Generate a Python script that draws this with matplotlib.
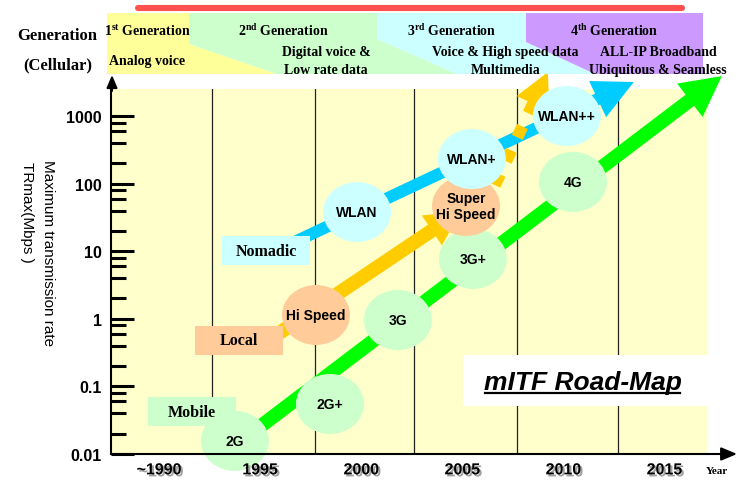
import matplotlib
matplotlib.use('Agg')
import matplotlib.pyplot as plt
import matplotlib.patches as mpatches
import matplotlib.transforms as mtransforms
import matplotlib.patheffects as pe
from matplotlib.lines import Line2D
from matplotlib.ticker import NullFormatter, NullLocator
import numpy as np

# ---------------- data ----------------
year_ticks = [1990, 1995, 2000, 2005, 2010, 2015]
year_labels = ['~1990', '1995', '2000', '2005', '2010', '2015']
rate_ticks = [0.01, 0.1, 1, 10, 100, 1000]
rate_labels = ['0.01', '0.1', '1', '10', '100', '1000']
era_lines = [1992.6, 1997.7, 2002.6, 2007.7, 2012.7]

mobile_names = ['2G', '2G+', '3G', '3G+', '4G']
mobile_years = [1993.75, 1998.45, 2001.81, 2005.52, 2010.47]
mobile_rates = [0.0156, 0.055, 0.96, 7.7, 106]

local_names = ['Hi Speed', 'Super\nHi Speed']
local_years = [1997.76, 2005.18]
local_rates = [1.14, 46.7]

nomadic_names = ['WLAN', 'WLAN+', 'WLAN++']
nomadic_years = [1999.79, 2005.47, 2010.17]
nomadic_rates = [38, 231, 1000]

# trend arrows: [start, end]
mobile_arrow_years = [1992.76, 2017.83]
mobile_arrow_rates = [0.0079, 3900]
nomadic_arrow_years = [1996.49, 2013.48]
nomadic_arrow_rates = [12.8, 3185]
local_arrow_years = [1995.49, 2004.93]
local_arrow_rates = [0.50, 39.4]
local_future_years = [2006.61, 2009.23]
local_future_rates = [95, 4480]

cat_names = ['Nomadic', 'Local', 'Mobile']
cat_years = [1995.29, 1993.93, 1991.63]
cat_rates = [10.2, 0.478, 0.0425]

# ---------------- style ----------------
W, H, DPI = 743, 485, 100
SANS = ['Liberation Sans', 'DejaVu Sans']
SERIF = ['Liberation Serif', 'DejaVu Serif']
plt.rcParams['font.family'] = SANS
plt.rcParams['mathtext.fontset'] = 'custom'
plt.rcParams['mathtext.rm'] = 'Liberation Serif:bold'
plt.rcParams['mathtext.it'] = 'Liberation Serif:bold'
plt.rcParams['mathtext.bf'] = 'Liberation Serif:bold'

C_GREEN_ARROW = '#00FF00'
C_CYAN_ARROW = '#00CCFF'
C_YELLOW_ARROW = '#FFCC00'
C_GREEN_BUB = '#CCFFCC'
C_CYAN_BUB = '#CCFFFF'
C_ORANGE_BUB = '#FFCC99'
cat_colors = [C_CYAN_BUB, C_ORANGE_BUB, C_GREEN_BUB]

fig = plt.figure(figsize=(W / DPI, H / DPI), dpi=DPI)
# pixel coordinates, origin top-left (layout helper)
pix = mtransforms.Affine2D().scale(1 / W, -1 / H).translate(0, 1) + fig.transFigure

AX_L, AX_R, AX_T, AX_B = 111, 707, 90, 455
axw, axh = AX_R - AX_L, AX_B - AX_T
ax = fig.add_axes([AX_L / W, 1 - AX_B / H, axw / W, axh / H])
ax.set_facecolor('#FFFFCC')
ax.set_yscale('log')
ax.set_xlim(1987.62, 2017.10)
ax.set_ylim(0.01, 10 ** 3.4)

for s in ['top', 'right']:
    ax.spines[s].set_visible(False)
for s in ['left', 'bottom']:
    ax.spines[s].set_linewidth(1.5)
    ax.spines[s].set_zorder(8)

ax.set_yticks(rate_ticks, rate_labels, fontweight='bold')
ax.set_yticks([m * 10.0 ** k for k in range(-2, 3) for m in (2, 4, 6, 8)], minor=True)
ax.yaxis.set_minor_formatter(NullFormatter())
ax.tick_params(axis='y', which='major', direction='in', length=16.5, width=2.2,
               pad=6.5, labelsize=11.5)
ax.tick_params(axis='y', which='minor', direction='in', length=10.8, width=2.2)

shadow = [pe.withSimplePatchShadow(offset=(1.5, -1.5), shadow_rgbFace='0.5', alpha=0.75)]
ax.set_xticks(year_ticks, year_labels, fontweight='bold', path_effects=shadow)
ax.xaxis.set_minor_locator(NullLocator())
ax.tick_params(axis='x', length=0, pad=6, labelsize=11.5)
ax.xaxis.set_zorder(9)

for x in era_lines:
    ax.axvline(x, color='#222222', lw=0.9, zorder=1)


def to_axes(x, y):
    return ax.transAxes.inverted().transform(ax.transData.transform((x, y)))


def trend_arrow(xs, ys, color, tail, head_w, head_l, z=3):
    style = mpatches.ArrowStyle.Simple(head_length=head_l, head_width=head_w, tail_width=tail)
    a = mpatches.FancyArrowPatch((xs[0], ys[0]), (xs[1], ys[1]), arrowstyle=style,
                                 mutation_scale=72 / DPI, shrinkA=0, shrinkB=0,
                                 facecolor=color, edgecolor='none', lw=0,
                                 transform=ax.transData, clip_on=False, zorder=z)
    ax.add_patch(a)


trend_arrow(mobile_arrow_years, mobile_arrow_rates, C_GREEN_ARROW, 14, 42, 40)
trend_arrow(nomadic_arrow_years, nomadic_arrow_rates, C_CYAN_ARROW, 12, 40, 40)
trend_arrow(local_arrow_years, local_arrow_rates, C_YELLOW_ARROW, 14, 36, 35)

# dashed continuation of the Local trend
frac = 0.78
lx0, lx1 = local_future_years
ly0, ly1 = np.log10(local_future_rates[0]), np.log10(local_future_rates[1])
xe = lx0 + frac * (lx1 - lx0)
ye = 10 ** (ly0 + frac * (ly1 - ly0))
ax.plot([lx0, xe], [local_future_rates[0], ye], color=C_YELLOW_ARROW, lw=12 * 0.72,
        dashes=(1.0, 1.2), dash_capstyle='butt', solid_capstyle='butt',
        zorder=3.5, clip_on=False)
trend_arrow(local_future_years, local_future_rates, C_YELLOW_ARROW, 0.01, 36, 35, z=3.5)

# category boxes
for name, x, y, c in zip(cat_names, cat_years, cat_rates, cat_colors):
    cx, cy = to_axes(x, y)
    bw, bh = 88 / axw, 29 / axh
    ax.add_patch(mpatches.Rectangle((cx - bw / 2, cy - bh / 2), bw, bh, transform=ax.transAxes,
                                    facecolor=c, edgecolor='none', zorder=4, clip_on=False))
    ax.text(x, y, name, ha='center', va='center', family=SERIF, fontweight='bold',
            fontsize=11.5, zorder=4.5)


def bubbles(xs, ys, names, color):
    for x, y, n in zip(xs, ys, names):
        cx, cy = to_axes(x, y)
        ax.add_patch(mpatches.Ellipse((cx, cy), 68 / axw, 60 / axh, transform=ax.transAxes,
                                      facecolor=color, edgecolor='none', zorder=5, clip_on=False))
        ax.text(x, y, n, ha='center', va='center', fontsize=10, fontweight='bold',
                zorder=6, linespacing=1.15)


bubbles(mobile_years, mobile_rates, mobile_names, C_GREEN_BUB)
bubbles(local_years, local_rates, local_names, C_ORANGE_BUB)
bubbles(nomadic_years, nomadic_rates, nomadic_names, C_CYAN_BUB)

# title box
ax.add_patch(mpatches.Rectangle((463, 356), 245, 51, transform=pix, facecolor='white',
                                edgecolor='none', zorder=2, clip_on=False))
t = fig.text(583, 383, 'mITF Road-Map', transform=pix, ha='center', va='center',
             fontsize=19, fontweight='bold', fontstyle='italic', zorder=10)
fig.canvas.draw()
bb = t.get_window_extent(fig.canvas.get_renderer())
ul = fig.transFigure.inverted().transform([[bb.x0 + 1, bb.y0 + 1], [bb.x1 - 2, bb.y0 + 1]])
fig.add_artist(Line2D(ul[:, 0], ul[:, 1], transform=fig.transFigure, color='black', lw=1.6, zorder=10))

# axis arrows
fig.add_artist(mpatches.FancyArrowPatch((112, 92), (112, 76), transform=pix,
               arrowstyle='-|>,head_length=0.75,head_width=0.32', mutation_scale=10,
               shrinkA=0, shrinkB=0, color='black', lw=1.5))
fig.add_artist(mpatches.FancyArrowPatch((706, 455), (737, 455), transform=pix,
               arrowstyle='-|>,head_length=0.95,head_width=0.4', mutation_scale=10,
               shrinkA=0, shrinkB=0, color='black', lw=1.5))
fig.text(717, 472, 'Year', transform=pix, ha='center', va='center', family=SERIF,
         fontweight='bold', fontsize=8)

# axis title
fig.text(48, 160, 'Maximum transmission rate', transform=pix, rotation=-90, ha='center',
         va='top', fontsize=11)
fig.text(27, 162, 'TRmax(Mbps )', transform=pix, rotation=-90, ha='center', va='top',
         fontsize=11)

# ---------------- header (generation bands) ----------------
bands = [
    ('#FFFF99', [(107, 14), (189, 14), (189, 45), (277, 75), (107, 75)]),
    ('#CCFFCC', [(189, 14), (377, 14), (377, 40), (457, 75), (277, 75), (189, 45)]),
    ('#CCFFFF', [(377, 14), (526, 14), (526, 43), (595, 75), (457, 75), (377, 40)]),
    ('#CC99FF', [(526, 14), (703, 14), (703, 75), (595, 75), (526, 43)]),
]
for col, pts in bands:
    fig.add_artist(mpatches.Polygon(pts, closed=True, transform=pix, facecolor=col,
                                    edgecolor='none', zorder=1))
fig.add_artist(Line2D([138, 682], [9, 9], transform=pix, color='#FF5050', lw=4.4,
                      solid_capstyle='round', zorder=2))

hdr = dict(transform=pix, ha='center', va='baseline', family=SERIF, fontweight='bold',
           fontsize=10, zorder=3)
fig.text(147.5, 36, r'1$^{\mathrm{st}}$ Generation', **hdr)
fig.text(147.5, 65, 'Analog voice', **hdr)
fig.text(283.5, 36, r'2$^{\mathrm{nd}}$ Generation', **hdr)
fig.text(326, 56, 'Digital voice &', **hdr)
fig.text(326, 74, 'Low rate data', **hdr)
fig.text(452, 36, r'3$^{\mathrm{rd}}$ Generation', **hdr)
fig.text(505.5, 56, 'Voice & High speed data', **hdr)
fig.text(506, 74, 'Multimedia', **hdr)
fig.text(614.5, 36, r'4$^{\mathrm{th}}$ Generation', **hdr)
fig.text(658, 56, 'ALL-IP Broadband', **hdr)
fig.text(657.5, 74, 'Ubiquitous & Seamless', **hdr)
fig.text(57, 40.5, 'Generation', transform=pix, ha='center', va='baseline', family=SERIF,
         fontweight='bold', fontsize=12)
fig.text(57.5, 69.5, '(Cellular)', transform=pix, ha='center', va='baseline', family=SERIF,
         fontweight='bold', fontsize=12)

fig.savefig('out.png', dpi=DPI)
